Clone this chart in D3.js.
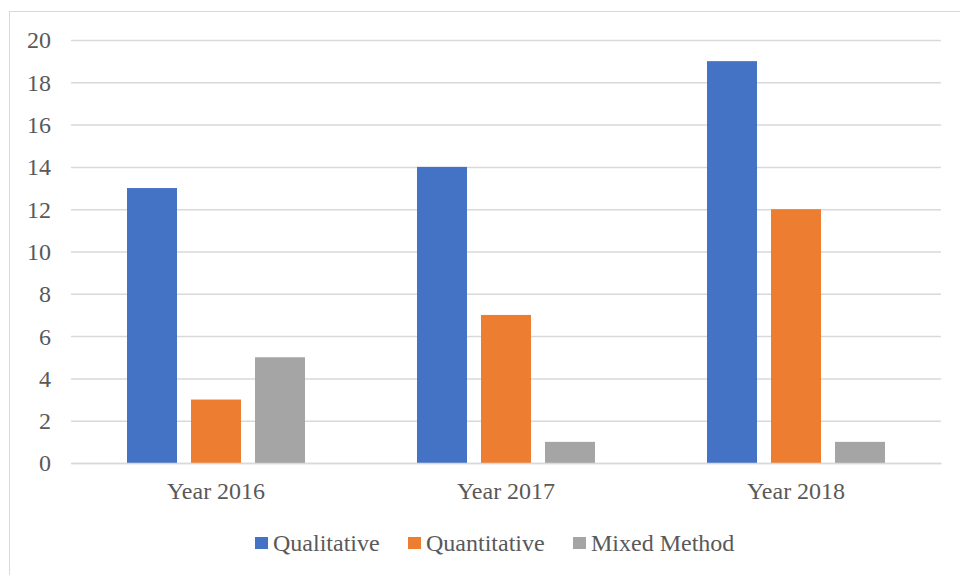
<!DOCTYPE html>
<html><head><meta charset="utf-8">
<script src="https://cdn.jsdelivr.net/npm/d3@7/dist/d3.min.js"></script>
<style>body{margin:0;background:#fff}svg{display:block}
svg text{font-family:"Liberation Serif","Times New Roman",Times,serif !important;}</style>
</head><body><svg id="c" width="960" height="575"></svg>
<script>
const categories = ["Year 2016", "Year 2017", "Year 2018"];
const seriesNames = ["Qualitative", "Quantitative", "Mixed Method"];
const qualitative = [13, 14, 19];
const quantitative = [3, 7, 12];
const mixedMethod = [5, 1, 1];
const yTicks = [0, 2, 4, 6, 8, 10, 12, 14, 16, 18, 20];
const colors = ["#4472C4", "#ED7D31", "#A5A5A5"];
const seriesValues = [qualitative, quantitative, mixedMethod];

const svg = d3.select("#c");
const m = {left: 71, right: 941, top: 40, bottom: 463};

svg.append("rect").attr("x", 9.5).attr("y", 11.5).attr("width", 960).attr("height", 600)
  .attr("fill", "none").attr("stroke", "#d9d9d9").attr("stroke-width", 1);

const y = d3.scaleLinear().domain([0, 20]).range([m.bottom, m.top]);
const x0 = d3.scaleBand().domain(categories).range([m.left, m.right]).paddingInner(0).paddingOuter(0);
const x1 = d3.scaleBand().domain(seriesNames).range([0, x0.bandwidth()]).paddingInner(0.21875).paddingOuter(0.875);

const yAxis = d3.axisLeft(y).tickValues(yTicks).tickSize(-(m.right - m.left)).tickPadding(20);
const gy = svg.append("g").attr("transform", `translate(${m.left},0)`).call(yAxis);
gy.select(".domain").remove();
gy.selectAll(".tick line").attr("stroke", "#d9d9d9").attr("stroke-width", 1.5);
gy.selectAll(".tick text").attr("fill", "#595959").attr("font-size", 24).attr("dy", "0.33em");

const rows = categories.map((c, i) => ({cat: c, vals: seriesNames.map((s, j) => ({s, v: seriesValues[j][i], j}))}));
svg.append("g").selectAll("g").data(rows).join("g")
  .attr("transform", d => `translate(${x0(d.cat)},0)`)
  .selectAll("rect").data(d => d.vals).join("rect")
  .attr("x", d => x1(d.s)).attr("width", x1.bandwidth())
  .attr("y", d => y(d.v)).attr("height", d => y(0) - y(d.v))
  .attr("fill", d => colors[d.j]);

const xAxis = d3.axisBottom(x0).tickSize(0).tickPadding(19);
const gx = svg.append("g").attr("transform", `translate(0,${m.bottom})`).call(xAxis);
gx.select(".domain").attr("stroke", "#d9d9d9").attr("stroke-width", 1.5);
gx.selectAll(".tick text").attr("fill", "#595959").attr("font-size", 24);

const legendX = [255, 408, 573];
const lg = svg.append("g").selectAll("g").data(seriesNames).join("g")
  .attr("transform", (d, i) => `translate(${legendX[i]},537)`);
lg.append("rect").attr("width", 13).attr("height", 12).attr("fill", (d, i) => colors[i]);
lg.append("text").attr("x", 18).attr("y", 14).text(d => d)
  .attr("fill", "#595959").attr("font-size", 24);
</script></body></html>
